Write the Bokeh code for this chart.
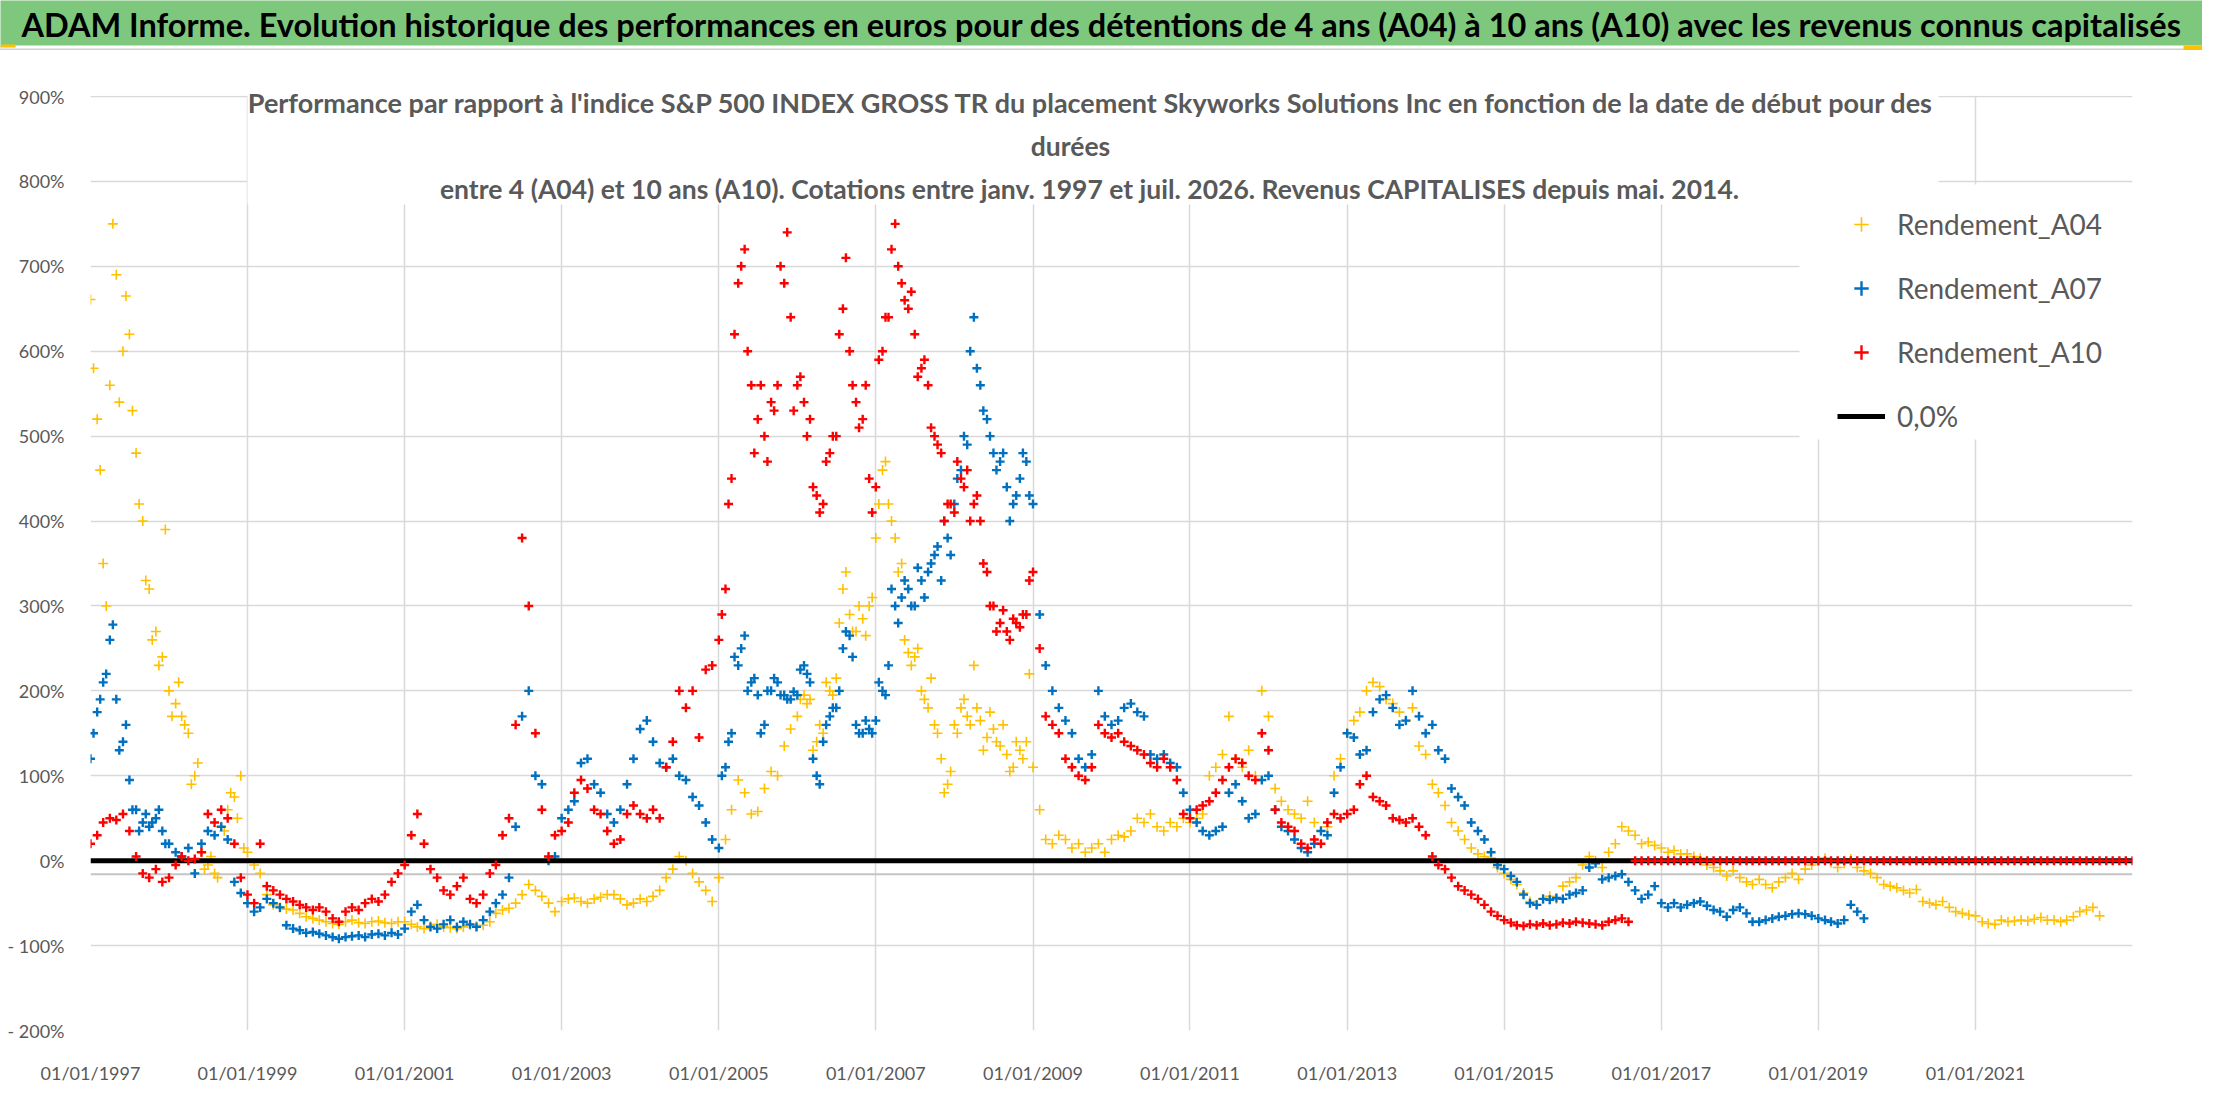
import pandas as pd

from bokeh.embed import file_html
from bokeh.layouts import column
from bokeh.models import (BoxAnnotation, DatetimeTickFormatter, FixedTicker, Label,
                          Legend, LegendItem, Range1d)
from bokeh.plotting import figure
from bokeh.resources import INLINE

FONT = "Lato"

TITLE = ("ADAM Informe. Evolution historique des performances en euros pour des détentions "
         "de 4 ans (A04) à 10 ans (A10) avec les revenus connus capitalisés")
SUBTITLE = [
    "Performance par rapport à l'indice S&P 500 INDEX GROSS TR  du placement Skyworks Solutions Inc "
    "en fonction de la date de début pour des",
    "durées",
    "entre 4 (A04) et 10 ans (A10). Cotations entre janv. 1997 et juil. 2026. "
    "Revenus CAPITALISES depuis mai. 2014.",
]

# axes
TICK_YEARS = [1997, 1999, 2001, 2003, 2005, 2007, 2009, 2011, 2013, 2015, 2017, 2019, 2021]
Y_TICKS = [-200, -100, 0, 100, 200, 300, 400, 500, 600, 700, 800, 900]
Y_LABELS = ["- 200%", "- 100%", "0%", "100%", "200%", "300%", "400%", "500%",
            "600%", "700%", "800%", "900%"]

# monthly readings (%), first value = 1st janv. 1997
A04 = [
    661, 520, 350, 560, 690, 600, 620, 480, 400, 320, 270, 240,
    200, 185, 170, 150, 100, 10, -5, -15, 40, 60, 75, 100,
    10, -5, -15, -40, -52, -55, -57, -58, -62, -66, -68, -70,
    -72, -74, -75, -72, -70, -73, -74, -72, -71, -73, -74, -72,
    -72, -75, -78, -80, -77, -75, -78, -79, -80, -78, -76, -77,
    -76, -72, -62, -58, -56, -50, -40, -28, -35, -42, -50, -60,
    -48, -45, -44, -48, -50, -45, -43, -40, -40, -45, -52, -50,
    -45, -48, -42, -35, -20, -10, 5, 0, -15, -25, -35, -48,
    -20, 25, 60, 95, 80, 55, 58, 85, 105, 100, 135, 155,
    170, 195, 190, 140, 150, 200, 215, 320, 290, 270, 285, 300,
    380, 460, 420, 380, 350, 245, 240, 200, 180, 160, 120, 90,
    160, 180, 170, 230, 165, 145, 155, 135, 125, 110, 130, 140,
    110, 60, 25, 20, 30, 25, 15, 20, 10, 15, 20, 10,
    25, 30, 28, 35, 50, 45, 55, 40, 35, 45, 40, 50,
    45, 50, 55, 100, 110, 125, 170, 120, 110, 130, 100, 200,
    170, 85, 70, 60, 55, 50, 70, 45, 35, 40, 100, 120,
    150, 165, 175, 200, 210, 205, 190, 185, 175, 165, 180, 135,
    125, 90, 80, 65, 45, 35, 25, 15, 8, 5, 3, -8,
    -15, -22, -28, -38, -48, -52, -45, -42, -45, -30, -25, -20,
    -5, 5, 0, -8, 10, 20, 40, 35, 30, 20, 22, 18,
    15, 10, 12, 8, 8, 5, 3, -5, -8, -12, -18, -12,
    -20, -25, -28, -22, -28, -32, -25, -20, -15, -22, -10, -5,
    0, 3, -2, -8, -3, 2, -8, -12, -15, -20, -28, -30,
    -32, -35, -38, -34, -48, -50, -52, -48, -55, -60, -62, -64,
    -65, -72, -74, -75, -70, -72, -71, -70, -71, -69, -67, -70,
    -70, -72, -70, -66, -60, -58, -55, -65,
]
A07 = [
    120, 175, 210, 260, 190, 140, 95, 60, 45, 40, 50, 35,
    20, 10, 5, 15, -15, 20, 35, 30, 40, 25, -25, -38,
    -50, -60, -55, -45, -50, -55, -76, -80, -82, -85, -84, -86,
    -88, -90, -92, -90, -89, -88, -90, -87, -86, -88, -85, -87,
    -80, -60, -52, -70, -78, -80, -75, -70, -78, -72, -75, -78,
    -70, -60, -50, -40, -20, 40, 170, 200, 100, 90, 0, 5,
    50, 60, 70, 115, 120, 90, 80, 55, 45, 60, 90, 120,
    155, 165, 140, 115, 110, 120, 100, 95, 75, 65, 45, 25,
    15, 110, 150, 230, 265, 210, 195, 160, 200, 210, 195, 190,
    195, 230, 210, 100, 140, 170, 180, 250, 265, 160, 150, 155,
    165, 200, 230, 300, 310, 320, 300, 330, 340, 360, 330, 380,
    420, 460, 490, 640, 560, 520, 480, 470, 440, 420, 450, 470,
    420, 290, 230, 200, 180, 165, 150, 120, 110, 125, 200, 170,
    160, 165, 180, 185, 175, 170, 125, 120, 125, 115, 110, 80,
    60, 45, 35, 30, 35, 40, 80, 90, 70, 50, 55, 95,
    100, 60, 40, 35, 25, 15, 10, 20, 35, 30, 80, 110,
    150, 145, 125, 130, 175, 190, 195, 180, 160, 165, 200, 170,
    150, 160, 130, 120, 85, 75, 65, 45, 35, 25, 10, -5,
    -10, -18, -25, -40, -50, -52, -45, -46, -44, -45, -40, -38,
    -35, -8, -3, -22, -20, -18, -16, -25, -35, -45, -40, -30,
    -50, -55, -50, -55, -52, -50, -48, -53, -58, -60, -66, -58,
    -55, -62, -72, -72, -70, -68, -66, -65, -63, -62, -63, -65,
    -68, -70, -72, -74, -70, -52, -60, -68,
]
A10 = [
    20, 30, 45, 50, 48, 55, 35, 5, -15, -20, -10, -25,
    -20, -5, 5, 0, 2, 10, 55, 45, 60, 50, 20, -20,
    -40, -50, 20, -30, -35, -40, -45, -48, -52, -55, -58, -55,
    -60, -68, -72, -60, -55, -58, -50, -45, -48, -40, -25, -15,
    -5, 30, 55, 20, -10, -20, -35, -40, -30, -20, -45, -50,
    -40, -15, -5, 30, 50, 160, 380, 300, 150, 60, 5, 30,
    35, 45, 80, 95, 85, 60, 55, 35, 20, 25, 55, 65,
    55, 50, 60, 50, 110, 140, 200, 180, 200, 145, 225, 230,
    260, 320, 450, 680, 720, 560, 520, 500, 540, 560, 680, 640,
    560, 540, 520, 430, 420, 480, 500, 650, 600, 540, 520, 450,
    440, 600, 640, 750, 680, 650, 620, 580, 560, 500, 480, 420,
    410, 450, 460, 420, 400, 340, 300, 280, 270, 285, 275, 290,
    340, 250, 170, 160, 150, 120, 110, 100, 95, 110, 160, 150,
    145, 150, 140, 135, 130, 125, 115, 110, 120, 110, 95, 55,
    50, 60, 65, 70, 80, 95, 110, 120, 115, 100, 95, 150,
    130, 60, 45, 40, 35, 20, 15, 25, 20, 45, 55, 50,
    55, 60, 90, 100, 75, 70, 65, 50, 48, 45, 50, 40,
    30, 5, -5, -10, -20, -30, -35, -40, -45, -52, -60, -65,
    -70, -73, -76, -77, -75, -76, -74, -76, -75, -73, -74, -72,
    -73, -74, -75, -76, -72, -70, -68, -72,
    0, 0, 0, 0,
    0, 0, 0, 0, 0, 0, 0, 0, 0, 0, 0, 0,
    0, 0, 0, 0, 0, 0, 0, 0, 0, 0, 0, 0,
    0, 0, 0, 0, 0, 0, 0, 0, 0, 0, 0, 0,
    0, 0, 0, 0, 0, 0, 0, 0, 0, 0, 0, 0,
    0, 0, 0, 0, 0, 0, 0, 0, 0, 0, 0, 0,
    0, 0, 0, 0, 0, 0, 0, 0, 0, 0, 0, 0,
    0,
]

# extra mid-month readings where the cloud of points is widest
A04_MID_1997 = [
    580, 460, 300, 750, 540, 665, 530, 420, 330, 260, 230, 390,
    170, 210, 160, 90, 115, -10, 5, -20, 35, 80, 50, 15,
]
A04_MID_2006 = [
    190, 185, 130, 160, 210, 195, 280, 340, 270, 300, 265, 310,
    420, 470, 400, 340, 260, 230, 250, 190, 215, 150, 80, 105,
    150, 190, 160, 180, 130, 175, 140, 160, 105, 140, 120, 220,
]
A07_MID_1997 = [150, 190, 220, 278, 130, 160, 60, 35, 55, 45, 60, 20]
A07_MID_2005 = [
    100, 140, 240, 250, 200, 215, 150, 200, 215, 195, 190, 199,
    225, 220, 120, 90, 160, 180, 200, 270, 240, 150, 165, 150,
    210, 195, 320, 280, 330, 300, 345, 310, 350, 370, 400, 360,
    450, 500, 600, 580, 530, 500, 460, 480, 400, 430, 480, 430,
]
A10_MID_2005 = [
    290, 420, 620, 700, 600, 480, 560, 470, 530, 700, 740, 530,
    570, 500, 440, 410, 470, 500, 620, 710, 560, 510, 560, 410,
    590, 640, 720, 700, 660, 670, 570, 590, 510, 490, 400, 420,
    470, 440, 400, 430, 350, 300, 270, 295, 260, 280, 290, 330,
]

ZERO_DATES = ["1997-01-01", "2023-01-01"]
ZERO_LINE = [0.0, 0.0]
AXIS_DATES = ["1997-01-01", "2023-01-01"]
AXIS_LEVEL = [-16, -16]   # the category axis of the sheet crosses slightly under 0

YELLOW = "#FFC000"
BLUE = "#0070C0"
RED = "#FF0000"
GREY_TXT = "#595959"
GRID = "#d9d9d9"


def months(start, n, mid=False):
    dates = pd.date_range(start, periods=n, freq="MS")
    return dates + pd.Timedelta(days=14) if mid else dates


def series(main, *extras):
    xs = list(months("1997-01-01", len(main)))
    ys = list(main)
    for start, vals in extras:
        xs += list(months(start, len(vals), mid=True))
        ys += list(vals)
    return xs, ys


# main frame sits at page x 98..2140, y 77..1038 (900% at y 104);
# helpers turn page pixels into frame-relative screen units
def sx(px):
    return px - 98


def sy(py):
    return 1038 - py


def box(left, right, bottom, top, color, **kw):
    return BoxAnnotation(left=left, right=right, bottom=bottom, top=top,
                         left_units="screen", right_units="screen",
                         bottom_units="screen", top_units="screen",
                         fill_color=color, fill_alpha=1, line_color=None, **kw)


# ---- green banner -------------------------------------------------------
banner = figure(width=2202, height=50, x_range=Range1d(0, 1), y_range=Range1d(0, 1),
                output_backend="svg", toolbar_location=None, min_border=0,
                x_axis_location=None, y_axis_location=None)
banner.frame_align = False
banner.grid.visible = False
banner.outline_line_color = None
banner.background_fill_color = "#7dc87d"
banner.border_fill_color = "#7dc87d"
banner.add_layout(box(0, 2202, 0, 5, "white"))
banner.add_layout(box(0, 2202, 0.5, 2, "#d0d0d0"))
banner.add_layout(box(0, 15, 3, 6, YELLOW))
banner.add_layout(box(2183, 2202, 0, 5, YELLOW))
banner.add_layout(Label(x=1101, y=26, x_units="screen", y_units="screen", text=TITLE,
                        text_align="center", text_baseline="middle", text_font=FONT,
                        text_font_size="32.5px", text_font_style="bold", text_color="black"))

# ---- main chart ---------------------------------------------------------
p = figure(width=2202, height=1044, x_axis_type="datetime",
           x_range=Range1d(pd.Timestamp("1997-01-01"), pd.Timestamp("2023-01-01")),
           y_range=Range1d(-200, 931.8),
           output_backend="svg", toolbar_location=None,
           min_border_left=90, min_border_right=70, min_border_top=19, min_border_bottom=64)
p.frame_align = False
p.outline_line_color = None
p.background_fill_color = "white"
p.border_fill_color = "white"

ticks = [pd.Timestamp(f"{y}-01-01").timestamp() * 1000 for y in TICK_YEARS]
p.xaxis.ticker = FixedTicker(ticks=ticks)
fmt = "%d/%m/%Y"
p.xaxis.formatter = DatetimeTickFormatter(years=fmt, months=fmt, days=fmt, hours=fmt,
                                          minutes=fmt, seconds=fmt, milliseconds=fmt)
p.yaxis.ticker = FixedTicker(ticks=Y_TICKS)
p.yaxis.major_label_overrides = dict(zip(Y_TICKS, Y_LABELS))

for ax in (p.xaxis, p.yaxis):
    ax.major_tick_line_color = None
    ax.minor_tick_line_color = None
    ax.axis_line_color = None
    ax.major_label_text_font = FONT
    ax.major_label_text_font_size = "18px"
    ax.major_label_text_color = GREY_TXT
p.xaxis.major_label_standoff = 25
p.yaxis.major_label_standoff = 20

p.xgrid.grid_line_color = GRID
p.ygrid.grid_line_color = GRID
p.xgrid.grid_line_width = 1.5
p.ygrid.grid_line_width = 1.5

# nothing of the grid above 900%, and the white frames of the text boxes hide it too
p.add_layout(BoxAnnotation(bottom=901, fill_color="white", fill_alpha=1, line_color=None,
                           level="underlay"))
p.add_layout(box(sx(255), sx(1946), sy(212), sy(60), "white", level="underlay"))
p.add_layout(box(sx(1807), sx(2141), sy(447), sy(192), "white", level="underlay"))

p.line(pd.to_datetime(AXIS_DATES), AXIS_LEVEL, line_color="#c4c4c4", line_width=2)

x04, y04 = series(A04, ("1997-01-01", A04_MID_1997), ("2006-01-01", A04_MID_2006))
x07, y07 = series(A07, ("1997-01-01", A07_MID_1997), ("2005-01-01", A07_MID_2005))
x10, y10 = series(A10, ("2005-01-01", A10_MID_2005))

r04 = p.scatter(x04, y04, marker="cross", size=10, line_color=YELLOW, line_width=1.6)
r07 = p.scatter(x07, y07, marker="cross", size=9, line_color=BLUE, line_width=2.4)
r00 = p.line(pd.to_datetime(ZERO_DATES), ZERO_LINE, line_color="black", line_width=5)
r10 = p.scatter(x10, y10, marker="cross", size=9, line_color=RED, line_width=2.4)

legend = Legend(items=[LegendItem(label="Rendement_A04", renderers=[r04]),
                       LegendItem(label="Rendement_A07", renderers=[r07]),
                       LegendItem(label="Rendement_A10", renderers=[r10]),
                       LegendItem(label="0,0%", renderers=[r00])],
                location=(sx(1845), sy(442)))
legend.label_text_font = FONT
legend.label_text_font_size = "28px"
legend.label_text_color = GREY_TXT
legend.label_height = 36
legend.glyph_height = 36
legend.glyph_width = 48
legend.label_standoff = 12
legend.spacing = 28
legend.padding = 16
legend.margin = 0
legend.background_fill_color = "white"
legend.background_fill_alpha = 1
legend.border_line_color = None
p.add_layout(legend)

for line, xpos, ypos, size in zip(SUBTITLE, [1102, 1078, 1097], [110, 153, 196],
                                  ["27px", "26.5px", "26.5px"]):
    p.add_layout(Label(x=sx(xpos), y=sy(ypos), x_units="screen", y_units="screen", text=line,
                       text_align="center", text_baseline="middle", text_font=FONT,
                       text_font_size=size, text_font_style="bold", text_color=GREY_TXT))

page = column(banner, p, spacing=0)
open("out.html", "w").write(file_html(page, INLINE))
